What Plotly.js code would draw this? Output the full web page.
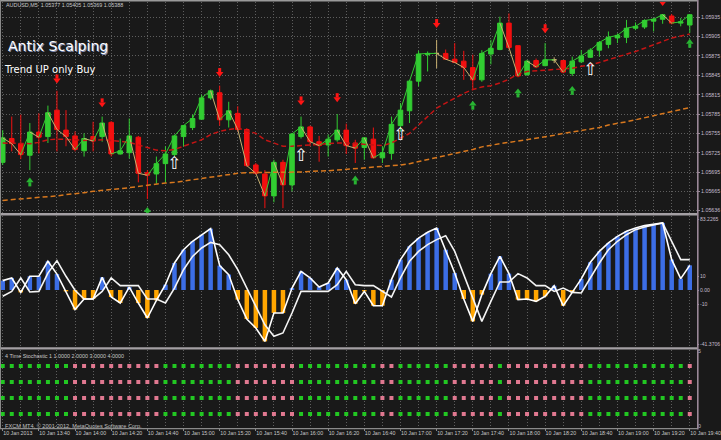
<!DOCTYPE html>
<html><head><meta charset="utf-8">
<script src="https://cdn.plot.ly/plotly-3.0.1.min.js"></script>
<style>html,body{margin:0;padding:0;background:#191919;overflow:hidden}#chart{width:721px;height:440px}</style>
</head><body><div id="chart"></div>
<script>
// ---------- DATA ----------
const openP = [1.05710,1.05747,1.05739,1.05721,1.05757,1.05750,1.05791,1.05760,1.05751,1.05728,
1.05750,1.05750,1.05772,1.05723,1.05725,1.05749,1.05694,1.05692,1.05708,1.05722,
1.05750,1.05764,1.05777,1.05810,1.05818,1.05776,1.05786,1.05761,1.05706,1.05692,
1.05658,1.05710,1.05675,1.05750,1.05765,1.05742,1.05737,1.05745,1.05760,1.05740,
1.05733,1.05746,1.05717,1.05724,1.05767,1.05790,1.05836,1.05877,1.05879,1.05879,
1.05870,1.05867,1.05857,1.05838,1.05878,1.05885,1.05926,1.05891,1.05846,1.05868,
1.05860,1.05869,1.05868,1.05848,1.05866,1.05873,1.05884,1.05893,1.05903,1.05904,
1.05918,1.05920,1.05929,1.05932,1.05937,1.05926,1.05923];
const highP = [1.05760,1.05781,1.05784,1.05771,1.05786,1.05798,1.05821,1.05791,1.05758,1.05755,
1.05773,1.05781,1.05774,1.05747,1.05778,1.05751,1.05698,1.05719,1.05735,1.05753,
1.05768,1.05784,1.05815,1.05823,1.05829,1.05804,1.05797,1.05763,1.05709,1.05698,
1.05714,1.05714,1.05755,1.05781,1.05767,1.05751,1.05753,1.05785,1.05770,1.05745,
1.05749,1.05764,1.05735,1.05781,1.05802,1.05838,1.05883,1.05882,1.05900,1.05885,
1.05895,1.05883,1.05877,1.05884,1.05900,1.05936,1.05941,1.05891,1.05869,1.05871,
1.05895,1.05873,1.05869,1.05874,1.05884,1.05887,1.05898,1.05913,1.05910,1.05931,
1.05927,1.05932,1.05934,1.05940,1.05940,1.05934,1.05940];
const lowP = [1.05706,1.05727,1.05715,1.05698,1.05724,1.05740,1.05727,1.05735,1.05727,1.05719,
1.05727,1.05742,1.05719,1.05722,1.05716,1.05679,1.05653,1.05677,1.05678,1.05719,
1.05735,1.05760,1.05776,1.05807,1.05767,1.05764,1.05758,1.05703,1.05691,1.05639,
1.05648,1.05639,1.05665,1.05747,1.05735,1.05711,1.05719,1.05742,1.05723,1.05709,
1.05714,1.05716,1.05709,1.05714,1.05758,1.05771,1.05828,1.05851,1.05856,1.05869,
1.05864,1.05838,1.05823,1.05835,1.05862,1.05884,1.05885,1.05842,1.05844,1.05856,
1.05859,1.05864,1.05848,1.05844,1.05864,1.05872,1.05874,1.05887,1.05895,1.05895,
1.05915,1.05917,1.05913,1.05925,1.05924,1.05921,1.05911];
const closeP = [1.05748,1.05739,1.05722,1.05757,1.05749,1.05787,1.05761,1.05750,1.05730,1.05747,
1.05743,1.05771,1.05723,1.05728,1.05751,1.05693,1.05690,1.05708,1.05723,1.05751,
1.05767,1.05778,1.05810,1.05821,1.05776,1.05790,1.05761,1.05705,1.05693,1.05658,
1.05710,1.05675,1.05754,1.05765,1.05742,1.05736,1.05746,1.05760,1.05736,1.05732,
1.05748,1.05717,1.05725,1.05769,1.05791,1.05836,1.05878,1.05879,1.05879,1.05870,
1.05865,1.05857,1.05838,1.05879,1.05887,1.05926,1.05888,1.05844,1.05867,1.05858,
1.05869,1.05869,1.05850,1.05867,1.05875,1.05884,1.05896,1.05904,1.05907,1.05918,
1.05921,1.05930,1.05932,1.05939,1.05926,1.05928,1.05939];
const redMA = [1.05740,1.05740,1.05739,1.05739,1.05741,1.05745,1.05746,1.05746,1.05745,1.05744,
1.05745,1.05745,1.05744,1.05742,1.05741,1.05737,1.05733,1.05729,1.05728,1.05730,
1.05735,1.05740,1.05745,1.05753,1.05758,1.05761,1.05763,1.05759,1.05755,1.05745,
1.05740,1.05735,1.05735,1.05736,1.05737,1.05739,1.05739,1.05740,1.05740,1.05739,
1.05737,1.05736,1.05736,1.05740,1.05747,1.05755,1.05768,1.05781,1.05794,1.05802,
1.05810,1.05817,1.05823,1.05827,1.05829,1.05833,1.05839,1.05847,1.05851,1.05852,
1.05853,1.05853,1.05854,1.05856,1.05859,1.05861,1.05865,1.05869,1.05873,1.05877,
1.05882,1.05887,1.05892,1.05897,1.05903,1.05906,1.05909];
const orangeMA = [1.05651,1.05652,1.05653,1.05654,1.05655,1.05657,1.05658,1.05660,1.05661,1.05663,
1.05665,1.05667,1.05668,1.05669,1.05671,1.05672,1.05675,1.05677,1.05678,1.05679,
1.05681,1.05683,1.05685,1.05687,1.05690,1.05692,1.05693,1.05694,1.05694,1.05694,
1.05694,1.05694,1.05694,1.05695,1.05696,1.05696,1.05697,1.05698,1.05699,1.05700,
1.05701,1.05702,1.05703,1.05704,1.05706,1.05708,1.05711,1.05714,1.05717,1.05721,
1.05724,1.05727,1.05730,1.05734,1.05737,1.05739,1.05741,1.05743,1.05745,1.05747,
1.05750,1.05752,1.05755,1.05757,1.05759,1.05762,1.05764,1.05768,1.05770,1.05773,
1.05776,1.05779,1.05782,1.05785,1.05788,1.05792,1.05795];
const sellIdx = [6,11,24,33,37,48,60,73];
const sellPrice = [1.05839,1.05802,1.05849,1.05805,1.05810,1.05925,1.05917,1.05959];
const buyIdx = [3,16,39,52,57,63,76];
const buyPrice = [1.05680,1.05634,1.05683,1.05799,1.05818,1.05822,1.05895];
const signalIdx = [19,33,44,65];
const signalPrice = [1.05706,1.05719,1.05751,1.05852];
const priceTicks = [1.05935,1.05905,1.05875,1.05845,1.05815,1.05785,1.05755,1.05725,1.05695,1.05665,1.05636];
const priceTickText = ["1.05935","1.05905","1.05875","1.05845","1.05815","1.05785","1.05755","1.05725","1.05695","1.05665","1.05636"];

const histo = [6.7,8.6,-1.7,9.8,9.8,20.5,11.4,-1.0,-14.0,-6.4,
-6.4,9.0,-5.0,-9.3,2.1,-9.3,-20.0,-7.4,3.8,19.3,
28.8,34.8,39.5,43.8,17.4,11.0,-6.9,-20.7,-27.1,-36.7,
-16.4,-16.4,1.4,13.3,8.6,2.1,5.0,15.7,7.4,-9.8,
-1.0,-11.2,-11.2,7.4,21.7,31.2,37.1,41.2,44.3,28.8,
12.1,-6.4,-22.4,-3.3,11.7,24.0,11.7,-6.9,-6.4,-8.1,
-4.5,3.1,-11.2,-1.7,7.9,19.8,27.6,33.6,38.3,41.9,
44.3,46.0,46.7,47.9,21.7,8.1,17.6];
const slowLine = [-4.5,-1.0,8.6,-1.4,-1.0,12.1,21.0,9.8,-0.2,-6.4,
-6.4,-1.0,8.6,3.1,3.1,3.1,-6.4,-6.4,-9.3,1.4,
14.5,24.0,30.0,34.0,32.4,25.2,14.5,1.4,-12.9,-24.8,
-33.1,-30.7,-16.4,-1.0,-1.0,-1.0,-1.0,3.8,13.3,3.8,
3.1,3.1,-1.0,-5.0,8.6,20.5,27.6,32.4,36.0,38.8,
27.6,11.0,-5.7,-22.4,-8.1,5.7,5.7,11.7,8.6,3.1,
3.1,-1.0,1.4,-1.7,-2.1,8.6,19.3,28.8,34.8,39.5,
43.1,45.0,46.4,47.9,34.8,21.7,21.7];
const oscTicks = [50.7,10,0,-10,-38.8];
const oscTickText = ["83.2265","10","0.00","-10","-41.3706"];

const stochUp = [1,1,1,1,1,1,1,1, 0,0,0,0,0,0,0,0,0,0, 1,1,1,1,1,1,1,1, 0,0,0,0,0,0,0,
1,1,1,1,1,1,1,1,1, 0,0, 1,1,1,1,1,1, 0,0,0,0,0, 1, 0,0,0,0,0,0,0,0,0, 1,1,1,1,1,1,1,1,1,1,1, 0];
const stochRows = [1,2,3,4];

const timeIdx = [0,4,8,12,16,20,24,28,32,36,40,44,48,52,56,60,64,68,72,76];
const timeLabels = ["10 Jan 2013","10 Jan 13:40","10 Jan 14:00","10 Jan 14:20","10 Jan 14:40","10 Jan 15:00","10 Jan 15:20","10 Jan 15:40","10 Jan 16:00","10 Jan 16:20","10 Jan 16:40","10 Jan 17:00","10 Jan 17:20","10 Jan 17:40","10 Jan 18:00","10 Jan 18:20","10 Jan 18:40","10 Jan 19:00","10 Jan 19:20","10 Jan 19:40"];

// ---------- BUILD ----------
const PW = 697, PH = 428;
const fx = px => px / PW, fy = py => (PH - py) / PH;
const Y_RANGE = [1.0563144, 1.0595874];
const pxP = (Y_RANGE[1] - Y_RANGE[0]) / (213 - 2);   // price per screen pixel
const idx = closeP.map((_, i) => i);
const isDoji = i => openP[i] === closeP[i];
const nd = idx.filter(i => !isDoji(i)), dj = idx.filter(isDoji);
const pick = (a, ii) => ii.map(i => a[i]);
const GREEN = '#32cd32', RED = '#f21010', TAN = '#c8b070', ARROW_G = '#28b432', ARROW_R = '#ff1414';

const upX = [], upY = [], dnX = [], dnY = [];
for (let i = 0; i < closeP.length - 1; i++) {
  const up = closeP[i + 1] >= closeP[i];
  (up ? upX : dnX).push(i, i + 1, null);
  (up ? upY : dnY).push(closeP[i], closeP[i + 1], null);
}

function arrowTraces(xs, ps, dir, color) {
  // dir = -1 for down arrow, +1 for up arrow
  return [
    {type:'scatter', mode:'markers', x:xs, y:ps.map(p => p + dir * 1 * pxP),
     marker:{symbol: dir < 0 ? 'triangle-down' : 'triangle-up', size:6.5, color:color, line:{width:0}},
     xaxis:'x', yaxis:'y', hoverinfo:'skip'},
    {type:'scatter', mode:'markers', x:xs, y:ps.map(p => p - dir * 2.6 * pxP),
     marker:{symbol:'line-ns', size:3, color:color, line:{width:3, color:color}},
     xaxis:'x', yaxis:'y', hoverinfo:'skip'}
  ];
}

const traces = [
  {type:'scatter', mode:'lines', x:idx, y:orangeMA, line:{color:'#d8781e', width:1.5, dash:'5px,3px'}, xaxis:'x', yaxis:'y', hoverinfo:'skip'},
  {type:'scatter', mode:'lines', x:idx, y:redMA, line:{color:'#c41414', width:1.5, dash:'5px,3px'}, xaxis:'x', yaxis:'y', hoverinfo:'skip'},
  {type:'candlestick', x:nd, open:pick(openP,nd), high:pick(highP,nd), low:pick(lowP,nd), close:pick(closeP,nd),
   increasing:{line:{color:GREEN, width:1}, fillcolor:GREEN}, decreasing:{line:{color:RED, width:1}, fillcolor:RED},
   whiskerwidth:0, xaxis:'x', yaxis:'y', hoverinfo:'skip'},
  {type:'candlestick', x:dj, open:pick(openP,dj), high:pick(highP,dj), low:pick(lowP,dj), close:pick(closeP,dj),
   increasing:{line:{color:TAN, width:1}, fillcolor:TAN}, decreasing:{line:{color:TAN, width:1}, fillcolor:TAN},
   whiskerwidth:0, xaxis:'x', yaxis:'y', hoverinfo:'skip'},
  {type:'scatter', mode:'lines', x:upX, y:upY, line:{color:GREEN, width:1}, xaxis:'x', yaxis:'y', connectgaps:false, hoverinfo:'skip'},
  {type:'scatter', mode:'lines', x:dnX, y:dnY, line:{color:TAN, width:1}, xaxis:'x', yaxis:'y', connectgaps:false, hoverinfo:'skip'}
].concat(
  arrowTraces(sellIdx, sellPrice, -1, ARROW_R),
  arrowTraces(buyIdx, buyPrice, 1, ARROW_G),
  [
  {type:'scatter', mode:'text', x:signalIdx, y:signalPrice, text:signalIdx.map(()=>'\u21E7'), textposition:'middle center',
   textfont:{family:'DejaVu Sans', size:17, color:'#ffffff'}, xaxis:'x', yaxis:'y', hoverinfo:'skip'},
  // oscillator
  {type:'bar', x:idx, y:histo, width:0.5, marker:{color:histo.map(v => v >= 0 ? '#3c6ee6' : '#ffa500'), line:{width:0}},
   xaxis:'x2', yaxis:'y2', hoverinfo:'skip'},
  {type:'scatter', mode:'lines', x:idx, y:slowLine, line:{color:'#f4f4f4', width:1.6}, xaxis:'x2', yaxis:'y2', hoverinfo:'skip'},
  {type:'scatter', mode:'lines', x:idx, y:histo, line:{color:'#ffffff', width:1.6}, xaxis:'x2', yaxis:'y2', hoverinfo:'skip'}
  ]);
stochRows.forEach(r => {
  traces.push({type:'scatter', mode:'markers', x:idx, y:idx.map(() => r),
    marker:{symbol:'square', size:4, color:stochUp.map(s => s ? '#22c822' : '#e07890'), line:{width:0}},
    xaxis:'x3', yaxis:'y3', hoverinfo:'skip'});
});

const gridIdx = idx.filter(i => i % 2 === 0);
const GRID = '#5e5e5e', TICKC = '#c4bccc', BORDER = '#9a8898';
const smallFont = {family:'Liberation Sans', size:5.3, color:TICKC};
const baseX = {range:[-0.3, 76.8], showticklabels:false, ticks:'', showgrid:true, gridcolor:GRID, griddash:'1px,2px',
  gridwidth:1, zeroline:false, showline:false, tickmode:'array', tickvals:gridIdx, fixedrange:true};

const layout = {
  width:721, height:440, margin:{l:0, r:24, t:0, b:12},
  paper_bgcolor:'#191919', plot_bgcolor:'#191919', showlegend:false, boxgap:0.28,
  xaxis: Object.assign({}, baseX, {anchor:'y', rangeslider:{visible:false}}),
  xaxis2: Object.assign({}, baseX, {anchor:'y2'}),
  xaxis3: Object.assign({}, baseX, {anchor:'y3', tickvals:timeIdx, ticktext:timeLabels, showticklabels:true, tickangle:0,
    ticks:'outside', ticklen:2, tickcolor:'#8a8a8a', ticklabelposition:'outside right', tickfont:{family:'Liberation Sans', size:5.3, color:'#c8c8c8'},
    minor:{tickvals:gridIdx.filter(i => i % 4 !== 0), showgrid:true, gridcolor:GRID, griddash:'1px,2px', ticks:''}}),
  yaxis: {domain:[fy(213), fy(2)], range:Y_RANGE, side:'right', anchor:'x', tickmode:'array',
    tickvals:priceTicks, ticktext:priceTickText, showgrid:true, gridcolor:GRID, griddash:'1px,2px',
    ticks:'outside', ticklen:2, tickcolor:BORDER, tickfont:smallFont, zeroline:false, showline:false, fixedrange:true},
  yaxis2: {domain:[fy(347), fy(216)], range:[-40.71, 52.86], side:'right', anchor:'x2', tickmode:'array',
    tickvals:oscTicks, ticktext:oscTickText, showgrid:false, ticks:'outside', ticklen:1, tickcolor:BORDER,
    tickfont:{family:'Liberation Sans', size:5.1, color:TICKC}, zeroline:false, showline:false, fixedrange:true},
  yaxis3: {domain:[0, fy(350)], range:[0.125, 5.0], side:'right', anchor:'x3', tickmode:'array',
    tickvals:[4.9, 0.25], ticktext:['5','0'], showgrid:false, ticks:'', tickfont:smallFont,
    zeroline:false, showline:false, fixedrange:true},
  shapes: [
    {type:'rect', xref:'paper', yref:'paper', x0:0, x1:fx(697), y0:fy(0), y1:fy(1.5), line:{width:0}, fillcolor:'#9a9a9a', layer:'above'},
    {type:'rect', xref:'paper', yref:'paper', x0:0, x1:fx(697), y0:fy(213), y1:fy(215.5), line:{width:0}, fillcolor:'#a4a0a4', layer:'above'},
    {type:'rect', xref:'paper', yref:'paper', x0:0, x1:fx(697), y0:fy(347.3), y1:fy(349.6), line:{width:0}, fillcolor:'#a4a0a4', layer:'above'},
    {type:'rect', xref:'paper', yref:'paper', x0:0, x1:fx(697), y0:fy(428), y1:fy(429.3), line:{width:0}, fillcolor:'#8a8a8a', layer:'above'},
    {type:'rect', xref:'paper', yref:'paper', x0:fx(697), x1:fx(698.6), y0:fy(0), y1:fy(429.5), line:{width:0}, fillcolor:BORDER, layer:'above'},
    {type:'rect', xref:'paper', yref:'paper', x0:0, x1:fx(1), y0:fy(0), y1:fy(429), line:{width:0}, fillcolor:'#8a8a8a', layer:'above'}
  ],
  annotations: [
    {xref:'paper', yref:'paper', x:fx(4), y:fy(5.5), xanchor:'left', yanchor:'middle', showarrow:false,
     text:'AUDUSD,M5  1.05377 1.05405 1.05369 1.05388', font:{family:'Liberation Sans', size:5.4, color:'#c8c8c8'}},
    {xref:'paper', yref:'paper', x:fx(7), y:fy(46.5), xanchor:'left', yanchor:'middle', showarrow:false,
     text:'Antix Scalping', font:{family:'DejaVu Sans', size:14, color:'#7f8ab0'}},
    {xref:'paper', yref:'paper', x:fx(6), y:fy(45.5), xanchor:'left', yanchor:'middle', showarrow:false,
     text:'Antix Scalping', font:{family:'DejaVu Sans', size:14, color:'#ffffff'}},
    {xref:'paper', yref:'paper', x:fx(1.5), y:fy(70), xanchor:'left', yanchor:'middle', showarrow:false,
     text:'Trend UP only Buy', font:{family:'DejaVu Sans', size:10, color:'#ffffff'}},
    {xref:'paper', yref:'paper', x:fx(3), y:fy(355.5), xanchor:'left', yanchor:'middle', showarrow:false,
     text:'4 Time Stochastic 1 1.0000 2.0000 3.0000 4.0000', font:{family:'Liberation Sans', size:5.4, color:'#c8c8c8'}},
    {xref:'paper', yref:'paper', x:fx(2.5), y:fy(425.5), xanchor:'left', yanchor:'middle', showarrow:false,
     text:'FXCM MT4, \u00A9 2001-2012, MetaQuotes Software Corp.', font:{family:'Liberation Sans', size:5.6, color:'#c0c0c0'}}
  ]
};

Plotly.newPlot('chart', traces, layout, {staticPlot:true, displayModeBar:false});
</script>
</body></html>
